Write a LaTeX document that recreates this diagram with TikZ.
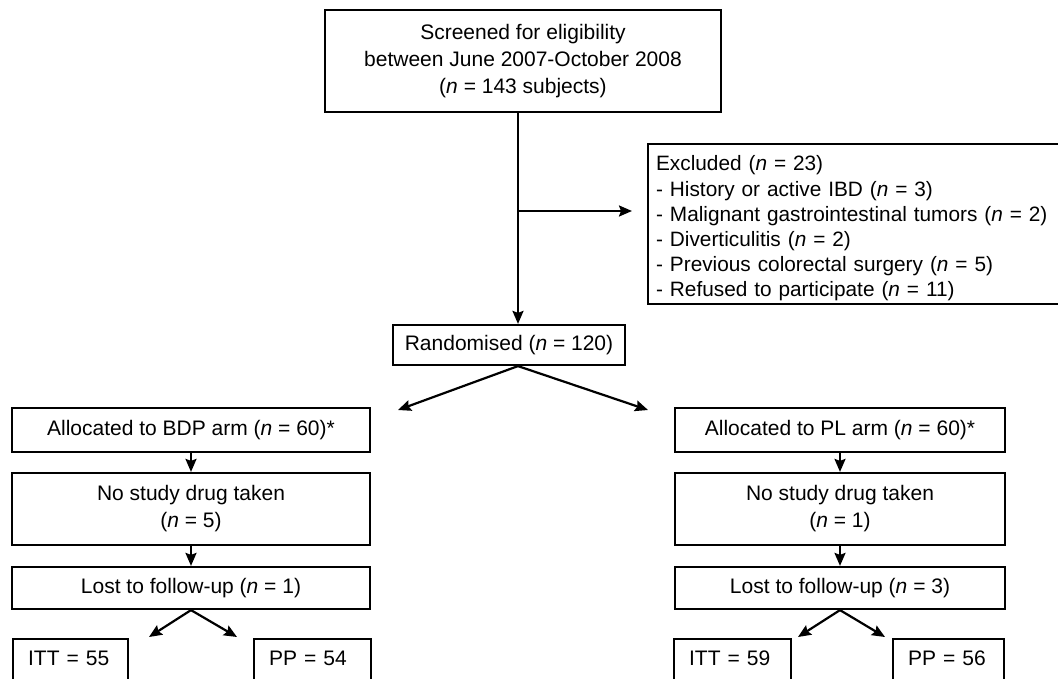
\documentclass[tikz,border=0pt]{standalone}
\usepackage{fontspec}
\setmainfont{Liberation Sans}
\usetikzlibrary{arrows.meta}

\begin{document}
\begin{tikzpicture}[x=1pt, y=-1pt, line width=2.2pt,
        box/.style={draw, align=center, inner sep=0pt, font=\fontsize{21}{27}\selectfont},
        leaf/.style={draw, anchor=north west, align=left, inner xsep=15pt, inner ysep=11pt,
            text height=15pt, text depth=40pt, font=\fontsize{21}{27}\selectfont},
        arr/.style={-{Stealth[length=13pt, width=11pt, inset=2pt]}}]
        \path[use as bounding box, clip] (0,0) rectangle (1058,679);

        % Screening and exclusion
        \node[box, minimum width=396, minimum height=102] (screen) at (523,61)
            {Screened for eligibility\\between June 2007-October 2008\\(\textit{n} = 143 subjects)};
        \node[box, anchor=north west, align=left, inner xsep=8pt, text width=420pt, minimum height=160,
            font=\fontsize{20.8}{25.2}\selectfont] (excl) at (647,143)
            {\rule{0pt}{24pt}Excluded (\textit{n} = 23)\\
             - History or active IBD (\textit{n} = 3)\\
             - Malignant gastrointestinal tumors (\textit{n} = 2)\\
             - Diverticulitis (\textit{n} = 2)\\
             - Previous colorectal surgery (\textit{n} = 5)\\
             - Refused to participate (\textit{n} = 11)};
        \node[box, minimum width=232, minimum height=40] (rand) at (509,345) {Randomised (\textit{n} = 120)};

        % BDP arm
        \node[box, minimum width=358, minimum height=44] (allocL) at (191,430) {Allocated to BDP arm (\textit{n} = 60)*};
        \node[box, minimum width=358, minimum height=72] (drugL) at (191,509) {No study drug taken\\(\textit{n} = 5)};
        \node[box, minimum width=358, minimum height=42] (lostL) at (191,588) {Lost to follow-up (\textit{n} = 1)};
        \node[leaf, text width=85pt] (ittL) at (12,638) {ITT = 55};
        \node[leaf, text width=87pt] (ppL) at (253,638) {PP = 54};

        % PL arm
        \node[box, minimum width=330, minimum height=44] (allocR) at (840,430) {Allocated to PL arm (\textit{n} = 60)*};
        \node[box, minimum width=330, minimum height=72] (drugR) at (840,509) {No study drug taken\\(\textit{n} = 1)};
        \node[box, minimum width=330, minimum height=42] (lostR) at (840,588) {Lost to follow-up (\textit{n} = 3)};
        \node[leaf, text width=87pt] (ittR) at (673,638) {ITT = 59};
        \node[leaf, text width=81pt] (ppR) at (892,638) {PP = 56};

        % Free arrow ends
        \coordinate (spine) at (518,211);
        \coordinate (exclTip) at (632,211);
        \coordinate (toL) at (398,410);
        \coordinate (toR) at (648,410);
        \coordinate (ittTipL) at (149,637);
        \coordinate (ppTipL) at (237,637);
        \coordinate (ittTipR) at (798,637);
        \coordinate (ppTipR) at (885,637);

        % Connectors
        \draw[arr] (screen.south -| spine) -- (spine |- rand.north);
        \draw[arr] (spine) -- (exclTip);
        \draw[arr] (spine |- rand.south) -- (toL);
        \draw[arr] (spine |- rand.south) -- (toR);
        \draw[arr] (allocL.south) -- (drugL.north);
        \draw[arr] (drugL.south) -- (lostL.north);
        \draw[arr] (lostL.south) -- (ittTipL);
        \draw[arr] (lostL.south) -- (ppTipL);
        \draw[arr] (allocR.south) -- (drugR.north);
        \draw[arr] (drugR.south) -- (lostR.north);
        \draw[arr] (lostR.south) -- (ittTipR);
        \draw[arr] (lostR.south) -- (ppTipR);
    \end{tikzpicture}
\end{document}
